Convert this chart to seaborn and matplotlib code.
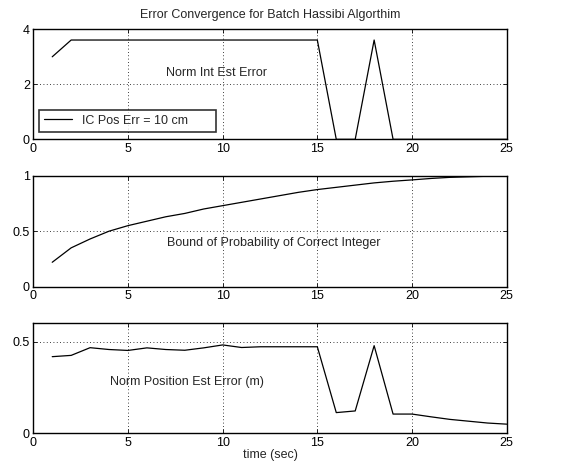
import matplotlib
matplotlib.use("Agg")
import matplotlib.pyplot as plt
import seaborn as sns
import pandas as pd

time_sec = list(range(1, 26))
norm_int_err = [3.0, 3.61, 3.61, 3.61, 3.61, 3.61, 3.61, 3.61, 3.61, 3.61,
                3.61, 3.61, 3.61, 3.61, 3.61, 0.0, 0.0, 3.61, 0.0, 0.0,
                0.0, 0.0, 0.0, 0.0, 0.0]
prob_bound = [0.22, 0.35, 0.43, 0.50, 0.55, 0.59, 0.63, 0.66, 0.70, 0.73,
              0.76, 0.79, 0.82, 0.85, 0.875, 0.895, 0.915, 0.935, 0.95, 0.962,
              0.975, 0.985, 0.99, 0.995, 1.0]
norm_pos_err = [0.418, 0.425, 0.467, 0.457, 0.452, 0.466, 0.457, 0.453, 0.466, 0.482,
                0.468, 0.472, 0.472, 0.472, 0.472, 0.113, 0.122, 0.478, 0.105, 0.105,
                0.09, 0.076, 0.066, 0.056, 0.05]

df = pd.DataFrame({"t": time_sec, "int": norm_int_err,
                   "prob": prob_bound, "pos": norm_pos_err})

sns.set_theme(style="white")
plt.rcParams['font.family'] = ['Liberation Sans', 'DejaVu Sans']
plt.rcParams['font.size'] = 9

FS = 9
fig = plt.figure(figsize=(5.69, 4.71), dpi=100)
L, W = 0.0585, 0.832
ax1 = fig.add_axes([L, 0.7042, W, 0.2336])
ax2 = fig.add_axes([L, 0.3913, W, 0.2357])
ax3 = fig.add_axes([L, 0.080, W, 0.2336])

def style(ax, ylim, yticks, yticklabels):
    ax.set_xlim(0, 25)
    ax.set_ylim(*ylim)
    ax.set_xticks([0, 5, 10, 15, 20, 25])
    ax.set_xticklabels(["0", "5", "10", "15", "20", "25"])
    ax.set_yticks(yticks)
    ax.set_yticklabels(yticklabels)
    ax.grid(True, color="black", linestyle=(0, (1, 3)), linewidth=0.6)
    ax.tick_params(direction="in", length=3, width=0.6, labelsize=FS,
                   colors="black", pad=2.5, top=True, right=True,
                   bottom=True, left=True)
    for s in ax.spines.values():
        s.set_color("black")
        s.set_linewidth(1.0)
    ax.set_xlabel("")
    ax.set_ylabel("")

sns.lineplot(data=df, x="t", y="int", ax=ax1, color="black", linewidth=0.9,
             label="IC Pos Err = 10 cm")
sns.lineplot(data=df, x="t", y="prob", ax=ax2, color="black", linewidth=0.9)
sns.lineplot(data=df, x="t", y="pos", ax=ax3, color="black", linewidth=0.9)

style(ax1, (0, 4), [0, 2, 4], ["0", "2", "4"])
style(ax2, (0, 1), [0, 0.5, 1], ["0", "0.5", "1"])
style(ax3, (0, 0.6), [0, 0.5], ["0", "0.5"])

ax1.set_title("Error Convergence for Batch Hassibi Algorthim", fontsize=FS, pad=8)
ax1.text(7.0, 2.4, "Norm Int Est Error", fontsize=FS, va="center", ha="left")
ax2.text(7.05, 0.39, "Bound of Probability of Correct Integer", fontsize=FS,
         va="center", ha="left")
ax3.text(4.05, 0.28, "Norm Position Est Error (m)", fontsize=FS,
         va="center", ha="left")
ax3.set_xlabel("time (sec)", fontsize=FS, labelpad=0)

leg = ax1.legend(loc="lower left", bbox_to_anchor=(0.0127, 0.069, 0.374, 0.22),
                 mode="expand", fontsize=FS, frameon=True, fancybox=False,
                 borderaxespad=0, handlelength=2.2, borderpad=0.4)
leg.get_frame().set_edgecolor("black")
leg.get_frame().set_linewidth(1.2)

fig.savefig("out.png", dpi=100)
